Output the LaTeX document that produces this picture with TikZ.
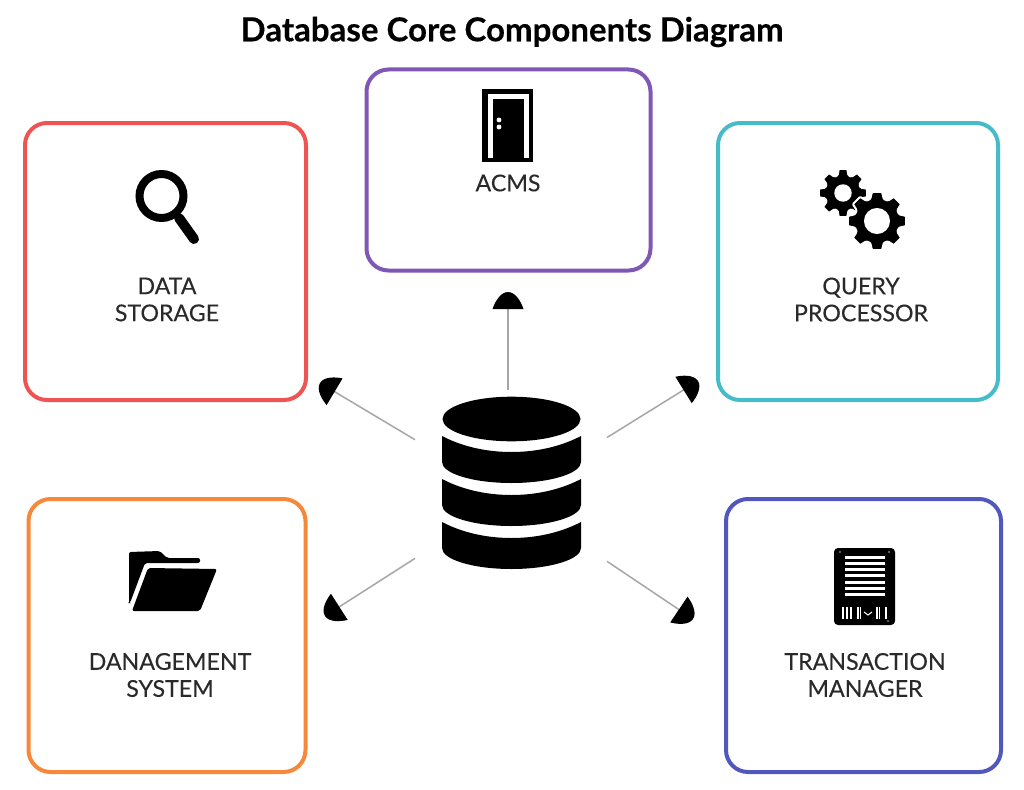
\documentclass[tikz,border=0pt]{standalone}
\usepackage{fontspec}
\setmainfont{Lato}[BoldFeatures={FakeBold=0.35}]
\newfontfamily\labelfont{Lato}[FakeBold=0.15]
\usetikzlibrary{arrows.meta}
\definecolor{storagered}{HTML}{EF5455}
\definecolor{acmspurple}{HTML}{7F58B6}
\definecolor{queryteal}{HTML}{46BCC9}
\definecolor{mgmtorange}{HTML}{F6883A}
\definecolor{transblue}{HTML}{5058C0}
\definecolor{linkgray}{HTML}{A4A6A9}
\definecolor{labelink}{HTML}{2A2A2A}
\pgfdeclarearrow{
  name=DomeTip,
  setup code={
    \pgfarrowssettipend{17pt}
    \pgfarrowssetlineend{1pt}
    \pgfarrowssetbackend{0pt}
    \pgfarrowssetvisualbackend{0pt}
  },
  drawing code={
    \pgfpathmoveto{\pgfpoint{0pt}{15.5pt}}
    \pgfpathcurveto{\pgfpoint{6pt}{13.5pt}}{\pgfpoint{17pt}{8pt}}{\pgfpoint{17pt}{0pt}}
    \pgfpathcurveto{\pgfpoint{17pt}{-8pt}}{\pgfpoint{6pt}{-13.5pt}}{\pgfpoint{0pt}{-15.5pt}}
    \pgfpathclose
    \pgfsetfillcolor{black}
    \pgfusepathqfill
  }
}
\tikzset{
  compbox/.style={draw,line width=4pt,rounded corners=22pt,inner sep=0pt},
  complabel/.style={align=center,text=labelink,font=\labelfont\fontsize{23.2}{27}\selectfont,inner sep=0pt},
  hublink/.style={draw=linkgray,line width=1.5pt,-{DomeTip}}
}
% one gear: centre x, centre y, outer radius, root radius, hole radius
\newcommand{\geardraw}[5]{
\fill [black,even odd rule,draw=white,line width=2pt,rounded corners=1pt] ([shift={(#1,#2)}] -17:#4) \foreach \a in {0,45,...,315} {
  -- ([shift={(#1,#2)}] \a-17:#4) -- ([shift={(#1,#2)}] \a-10:#3)
  -- ([shift={(#1,#2)}] \a+10:#3) -- ([shift={(#1,#2)}] \a+17:#4)
} -- cycle (#1,#2) circle (#5);
}
\begin{document}
\begin{tikzpicture}[x=1pt,y=-1pt]
\useasboundingbox (0,0) rectangle (1024,789);
\node (title) at (512,32) [inner sep=0pt,font=\fontsize{33}{38}\selectfont\bfseries] {Database Core Components Diagram};
% boxes
\node (storagebox) at (165.5,261.5) [compbox,draw=storagered,minimum width=281pt,minimum height=277pt] {};
\node (acmsbox) at (508.5,170) [compbox,draw=acmspurple,minimum width=284pt,minimum height=201pt] {};
\node (querybox) at (858,261.5) [compbox,draw=queryteal,minimum width=280pt,minimum height=277pt] {};
\node (mgmtbox) at (167,635.5) [compbox,draw=mgmtorange,minimum width=277pt,minimum height=273pt] {};
\node (transbox) at (863.5,635.5) [compbox,draw=transblue,minimum width=275pt,minimum height=273pt] {};
% labels
\node (storagelabel) at (167,299.5) [complabel] {DATA\\STORAGE};
\node (acmslabel) at (508,183) [complabel] {ACMS};
\node (querylabel) at (861,299.5) [complabel] {QUERY\\PROCESSOR};
\node (mgmtlabel) at (170,675) [complabel] {DANAGEMENT\\SYSTEM};
\node (translabel) at (865,675) [complabel] {TRANSACTION\\MANAGER};
% links
\node (dbhub) at (511,497) [minimum width=192pt,minimum height=214pt,inner sep=0pt,outer sep=0pt] {};
\coordinate (storagetip) at (320,383);
\coordinate (acmstip) at (508,292);
\coordinate (querytip) at (698,381);
\coordinate (mgmttip) at (325,616);
\coordinate (transtip) at (693,619);
\draw [hublink] (dbhub) -- (storagetip);
\draw [hublink] (dbhub.north -| acmstip) -- (acmstip);
\draw [hublink] (dbhub) -- (querytip);
\draw [hublink] (dbhub) -- (mgmttip);
\draw [hublink] (dbhub) -- (transtip);
% database
\fill [black] (511.5,419) ellipse (69pt and 22.3pt);
\foreach \dy in {0,43,86} {
\fill [black] (442,436+\dy) .. controls (465,448+\dy) and (490,452+\dy) .. (511.5,452+\dy)
  .. controls (533,452+\dy) and (558,448+\dy) .. (581,436+\dy) -- (581,462+\dy)
  .. controls (581,473.5+\dy) and (550,483+\dy) .. (511.5,483+\dy)
  .. controls (473,483+\dy) and (442,473.5+\dy) .. (442,462+\dy) -- cycle;
}
% magnifier
\draw [black,line width=8pt] (161.5,196) circle (22pt);
\draw [black,line width=10pt,line cap=round] (179,218) -- (194,239);
% door
\fill [black] (482,89) rectangle (533,162);
\fill [white] (488,94) rectangle (529,158);
\fill [black] (493,99) rectangle (524,162);
\fill [white] (499,120) circle (2.4pt);
\fill [white] (499,127) circle (2.4pt);
% gears
\geardraw{843}{193}{24.5}{18.5}{7.7}
\geardraw{877}{221}{29.5}{23}{12}
% folder
\fill [black,rounded corners=2pt] (129,552) -- (160,551) -- (167,558) -- (200,558) -- (200,563) -- (145,563) -- (130,603) -- (129,603) -- cycle;
\fill [black,rounded corners=2pt] (148,568) -- (217,569) -- (200,611) -- (132,611) -- cycle;
% transaction sheet
\fill [black,rounded corners=4pt] (834,548) rectangle (895,625);
\foreach \ly in {557,563.3,569.6,575.9,582.2,588.5,594.8} {
\fill [white] (845,\ly-1.5) rectangle (885,\ly+1.5);
}
\foreach \bx/\bw in {841.5/2,845.5/2,850/2,857/1.5,859.5/1.5,876/1.5,878.5/1.5,885/2} {
\fill [white] (\bx,607) rectangle (\bx+\bw,619);
}
\draw [white,line width=1pt] (864,612) -- (868,615) -- (872,612);
\fill [gray] (840,552) circle (1.2pt);
\fill [gray] (889,552) circle (1.2pt);
\fill [gray] (888,621) circle (1.2pt);
\end{tikzpicture}
\end{document}
